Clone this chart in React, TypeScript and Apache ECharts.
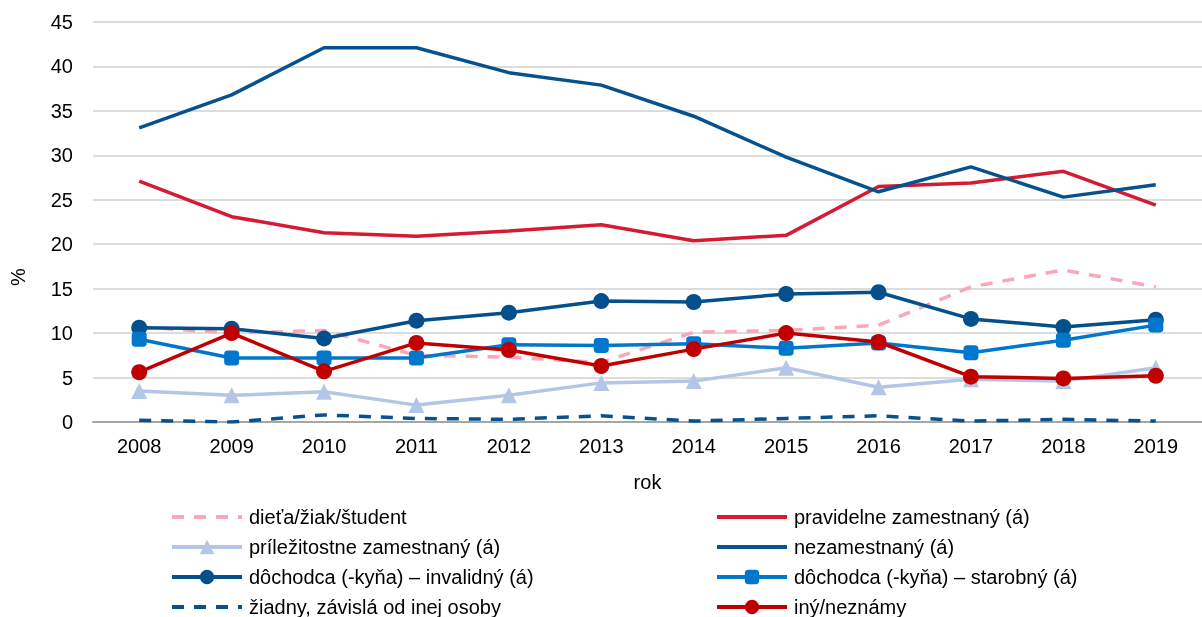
import React, { useEffect, useRef } from "react";
import * as echarts from "echarts";

const years = ["2008","2009","2010","2011","2012","2013","2014","2015","2016","2017","2018","2019"];

const dietaZiakStudent = [10.7, 10.0, 10.3, 7.5, 7.3, 6.7, 10.1, 10.3, 10.9, 15.2, 17.1, 15.2];
const pravidelneZamestnany = [27.1, 23.1, 21.3, 20.9, 21.5, 22.2, 20.4, 21.0, 26.5, 26.9, 28.2, 24.4];
const prilezitostneZamestnany = [3.5, 3.0, 3.4, 1.9, 3.0, 4.4, 4.6, 6.1, 3.9, 4.8, 4.6, 6.1];
const nezamestnany = [33.1, 36.8, 42.1, 42.1, 39.3, 37.9, 34.4, 29.8, 25.9, 28.7, 25.3, 26.7];
const dochodcaInvalidny = [10.6, 10.5, 9.4, 11.4, 12.3, 13.6, 13.5, 14.4, 14.6, 11.6, 10.7, 11.5];
const dochodcaStarobny = [9.3, 7.2, 7.2, 7.2, 8.7, 8.6, 8.8, 8.3, 8.9, 7.8, 9.2, 10.9];
const ziadnyZavisla = [0.2, 0.0, 0.8, 0.4, 0.3, 0.7, 0.1, 0.4, 0.7, 0.1, 0.3, 0.1];
const inyNeznamy = [5.6, 10.0, 5.7, 8.9, 8.1, 6.3, 8.2, 10.0, 9.0, 5.1, 4.9, 5.2];

const yTicks = [0, 5, 10, 15, 20, 25, 30, 35, 40, 45];

const NAMES = {
  dieta: "dieťa/žiak/študent",
  prav: "pravidelne zamestnaný (á)",
  pril: "príležitostne zamestnaný (á)",
  nez: "nezamestnaný (á)",
  inv: "dôchodca (-kyňa) – invalidný (á)",
  star: "dôchodca (-kyňa) – starobný (á)",
  ziad: "žiadny, závislá od inej osoby",
  iny: "iný/neznámy",
};

const FONT = "'Liberation Sans', Arial, sans-serif";

export default function App() {
  const ref = useRef<HTMLDivElement>(null);
  useEffect(() => {
    if (!ref.current) return;
    const chart = echarts.init(ref.current, undefined, { renderer: "svg" });
    const lineSeries = (name: string, data: number[], color: string, opts: any = {}) => ({
      name,
      type: "line",
      data,
      symbol: opts.symbol || "none",
      symbolSize: opts.symbolSize || 15,
      showSymbol: !!opts.symbol,
      lineStyle: { color, width: opts.width || 3.5, type: opts.dashed ? [12, 10] : "solid" },
      itemStyle: { color },
      z: opts.z || 2,
    });
    const noMark = (name: string) => ({ name, itemStyle: { opacity: 0 } });
    const legendBase = {
      orient: "vertical",
      top: 507,
      height: 150,
      padding: 0,
      itemWidth: 70,
      itemHeight: 18,
      itemGap: 10,
      lineStyle: { width: 4 },
      textStyle: { fontSize: 20, color: "#000", fontFamily: FONT, padding: [0, 0, 0, 2] },
    };
    chart.setOption({
      animation: false,
      textStyle: { fontFamily: FONT },
      grid: { left: 90, right: -12, top: 22, bottom: 195, containLabel: false },
      legend: [
        { ...legendBase, left: 170, data: [noMark(NAMES.dieta), NAMES.pril, NAMES.inv, noMark(NAMES.ziad)] },
        { ...legendBase, left: 715, data: [noMark(NAMES.prav), noMark(NAMES.nez), NAMES.star, NAMES.iny] },
      ],
      xAxis: {
        type: "category",
        data: years,
        boundaryGap: true,
        name: "rok",
        nameLocation: "middle",
        nameGap: 50,
        nameTextStyle: { fontSize: 20, color: "#000", fontFamily: FONT },
        axisLine: { lineStyle: { color: "#a6a6a6", width: 2 } },
        axisTick: { show: false },
        axisLabel: { fontSize: 20, color: "#000", margin: 14, fontFamily: FONT },
      },
      yAxis: {
        type: "value",
        min: yTicks[0],
        max: yTicks[yTicks.length - 1],
        interval: 5,
        name: "%",
        nameLocation: "middle",
        nameGap: 65,
        nameRotate: 90,
        nameTextStyle: { fontSize: 20, color: "#000", fontFamily: FONT, padding: [0, 110, 0, 0] },
        axisLine: { show: false },
        axisTick: { show: false },
        axisLabel: { fontSize: 20, color: "#000", margin: 20, fontFamily: FONT },
        splitLine: { lineStyle: { color: "#d0d0d0", width: 1.5 } },
      },
      series: [
        lineSeries(NAMES.dieta, dietaZiakStudent, "#f9a8b8", { dashed: true, z: 1 }),
        lineSeries(NAMES.prav, pravidelneZamestnany, "#d51a34", {}),
        lineSeries(NAMES.pril, prilezitostneZamestnany, "#b4c6e7", { symbol: "triangle", symbolSize: 16 }),
        lineSeries(NAMES.nez, nezamestnany, "#07528e", {}),
        lineSeries(NAMES.inv, dochodcaInvalidny, "#03508c", { symbol: "circle", symbolSize: 16, z: 3 }),
        lineSeries(NAMES.star, dochodcaStarobny, "#0077cc", { symbol: "roundRect", symbolSize: 15, z: 3 }),
        lineSeries(NAMES.ziad, ziadnyZavisla, "#07528e", { dashed: true }),
        lineSeries(NAMES.iny, inyNeznamy, "#c00000", { symbol: "circle", symbolSize: 16, z: 4 }),
      ],
    });
    return () => chart.dispose();
  }, []);
  return (
    <div
      ref={ref}
      style={{ position: "fixed", left: 0, top: 0, width: 1202, height: 617 }}
    />
  );
}
